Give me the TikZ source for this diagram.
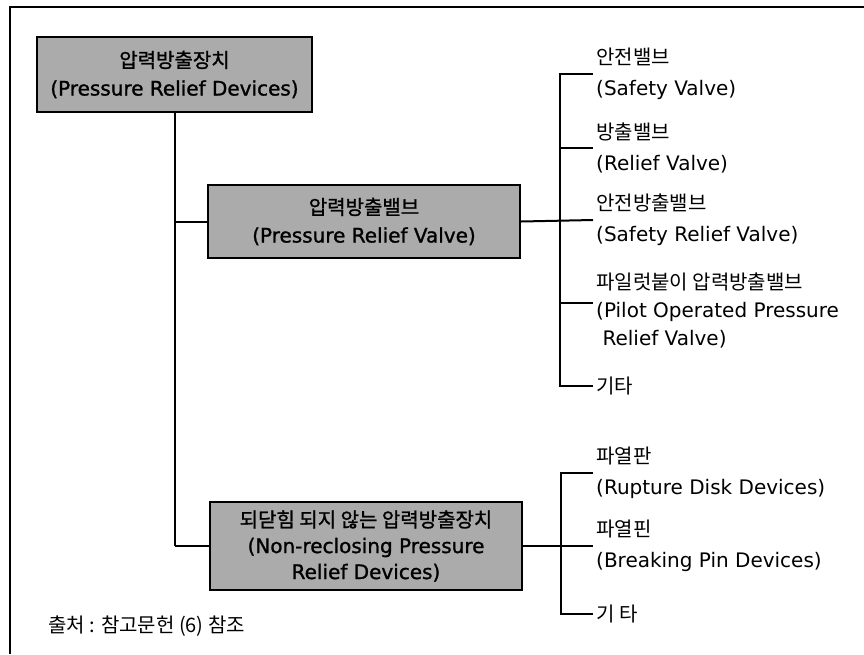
\documentclass[tikz,border=0pt]{standalone}
\usepackage{fontspec}
\setmainfont{Noto Sans CJK KR}
\newfontfamily\lat{DejaVu Sans}
\newfontfamily\latb[FakeBold=1.2]{DejaVu Sans}
\newfontfamily\krb[FakeBold=1.2]{Noto Sans CJK KR}
\begin{document}
\begin{tikzpicture}[x=1pt,y=-1pt,
  conn/.style={line width=2pt,black},
  greybox/.style={draw=black,line width=2pt,fill=black!33,minimum height=#1,inner sep=0pt,align=center,font=\fontsize{20}{28}\selectfont},
  item/.style={anchor=west,inner xsep=3pt,inner ysep=0pt,align=left,font=\fontsize{20}{31}\selectfont}
]
\useasboundingbox (0,0) rectangle (864,654);
\fill[white] (0,0) rectangle (864,654);
% frame
\draw[conn] (10,654) -- (10,7) -- (864,7);
% boxes
\node[greybox=75pt,minimum width=275pt] (root) at (174.5,74.5) {{\krb 압력방출장치}\\{\latb (Pressure Relief Devices)}};
\node[greybox=73pt,minimum width=312pt] (prv) at (364,221.5) {{\krb 압력방출밸브}\\{\latb (Pressure Relief Valve)}};
\node[greybox=88pt,minimum width=312pt,font=\fontsize{20}{26}\selectfont] (nrd) at (366,546) {{\krb 되닫힘 되지 않는 압력방출장치}\\{\latb (Non-reclosing Pressure}\\{\latb Relief Devices)}};
% trunk
\coordinate (tbot) at (174.5,546);
\draw[conn] (root.south) -- (tbot);
\draw[conn] (prv.west -| tbot) -- (prv.west);
\draw[conn] (tbot) -- (nrd.west);
% items bracket 1
\node[item] (i1) at (593,74) {안전밸브\\{\lat (Safety Valve)}};
\node[item] (i2) at (593,148) {방출밸브\\{\lat (Relief Valve)}};
\node[item] (i3) at (593,220) {안전방출밸브\\{\lat (Safety Relief Valve)}};
\node[item,font=\fontsize{20}{28}\selectfont] (i4) at (593,310) {파일럿붙이 압력방출밸브\\{\lat (Pilot Operated Pressure}\\{\lat\ Relief Valve)}};
\node[item] (i5) at (593,386) {기타};
\coordinate (b1) at (560,0);
\draw[conn] (i1.west) -- (i1.west -| b1) -- (i5.west -| b1) -- (i5.west);
\draw[conn] (i2.west -| b1) -- (i2.west);
\draw[conn] (prv.east) -- (i3.west);
\draw[conn] ([yshift=7pt]i4.west -| b1) -- ([yshift=7pt]i4.west);
% items bracket 2
\node[item] (j1) at (593,473) {파열판\\{\lat (Rupture Disk Devices)}};
\node[item] (j2) at (593,546) {파열핀\\{\lat (Breaking Pin Devices)}};
\node[item] (j3) at (593,614) {기 타};
\coordinate (b2) at (561,0);
\draw[conn] (j1.west) -- (j1.west -| b2) -- (j3.west -| b2) -- (j3.west);
\draw[conn] (nrd.east) -- (j2.west);
% footer
\node[anchor=west,inner sep=0pt,font=\fontsize{20}{22}\selectfont] (src) at (48,626) {출처 : 참고문헌 (6) 참조};
\end{tikzpicture}
\end{document}
